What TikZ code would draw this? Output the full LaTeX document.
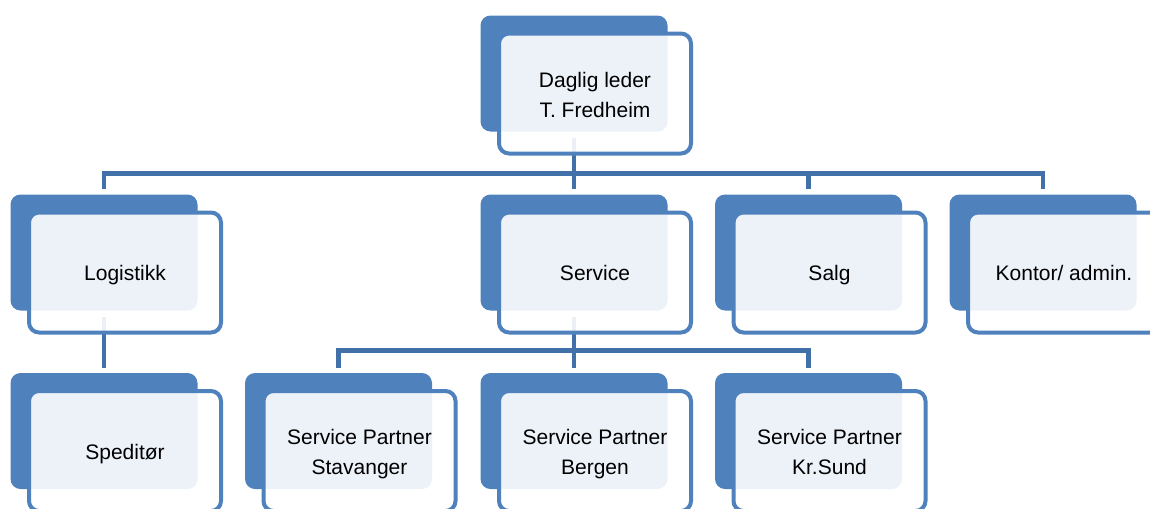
\documentclass[tikz,border=0pt]{standalone}
\usepackage{fontspec}
\setmainfont{Liberation Sans}
\definecolor{orgblue}{RGB}{79,129,189}
\definecolor{linkblue}{RGB}{66,112,168}
\newcommand{\topstrut}{\rule{0pt}{19.25pt}}
\newcommand{\botstrut}{\rule[-6.75pt]{0pt}{6.75pt}}
\tikzset{backbox/.style={rectangle, rounded corners=7.5pt, fill=orgblue, draw=none, inner sep=0pt, minimum width=140.25pt, minimum height=87pt}}
\tikzset{frontbox/.style={rectangle, rounded corners=7.5pt, draw=orgblue, line width=3pt, fill=white, fill opacity=0.9, text opacity=1, inner sep=0pt, minimum width=144pt, minimum height=90pt, align=center, font=\fontsize{15.75}{22.5}\selectfont, execute at begin node=\topstrut, execute at end node=\botstrut}}
\tikzset{link/.style={draw=linkblue, line width=3.3pt, shorten <=4.5pt, shorten >=3.75pt}}

\begin{document}
\begin{tikzpicture}[x=0.75pt, y=-0.75pt]

\useasboundingbox (0,0) rectangle (1150,508);
\clip (0,0) rectangle (1150,508);

% back plates
\node[backbox] (ledb) at (574,73.5) {};
\node[backbox] (logb) at (104,252.5) {};
\node[backbox] (serb) at (574,252.5) {};
\node[backbox] (salb) at (808.5,252.5) {};
\node[backbox] (konb) at (1043,252.5) {};
\node[backbox] (spdb) at (104,431) {};
\node[backbox] (stvb) at (338.5,431) {};
\node[backbox] (bgob) at (574,431) {};
\node[backbox] (krsb) at (808.5,431) {};

\coordinate (bus1) at (0,173.5);
\coordinate (bus2) at (0,350.5);

% lines
\draw[link] (ledb.south) -- (ledb.south |- bus1) -| (logb.north);
\draw[link] (ledb.south) -- (ledb.south |- bus1) -| (serb.north);
\draw[link] (ledb.south) -- (ledb.south |- bus1) -| (salb.north);
\draw[link] (ledb.south) -- (ledb.south |- bus1) -| (konb.north);
\draw[link] (logb.south) -- (spdb.north);
\draw[link] (serb.south) -- (serb.south |- bus2) -| (stvb.north);
\draw[link] (serb.south) -- (serb.south |- bus2) -| (bgob.north);
\draw[link] (serb.south) -- (serb.south |- bus2) -| (krsb.north);

% front plates with text
\node[frontbox] (led) at ([shift={(21,20)}]ledb.center) {\rule{0pt}{20pt}Daglig leder\\T. Fredheim};
\node[frontbox] (log) at ([shift={(21,20)}]logb.center) {Logistikk};
\node[frontbox] (ser) at ([shift={(21,20)}]serb.center) {Service};
\node[frontbox] (sal) at ([shift={(21,20)}]salb.center) {Salg};
\node[frontbox] (kon) at ([shift={(21,20)}]konb.center) {Kontor/ admin.};
\node[frontbox] (spd) at ([shift={(21,20)}]spdb.center) {Speditør};
\node[frontbox] (stv) at ([shift={(21,20)}]stvb.center) {\rule{0pt}{19.5pt}Service Partner\\Stavanger};
\node[frontbox] (bgo) at ([shift={(21,20)}]bgob.center) {\rule{0pt}{19.5pt}Service Partner\\Bergen};
\node[frontbox] (krs) at ([shift={(21,20)}]krsb.center) {\rule{0pt}{19.5pt}Service Partner\\Kr.Sund};

\end{tikzpicture}
\end{document}
